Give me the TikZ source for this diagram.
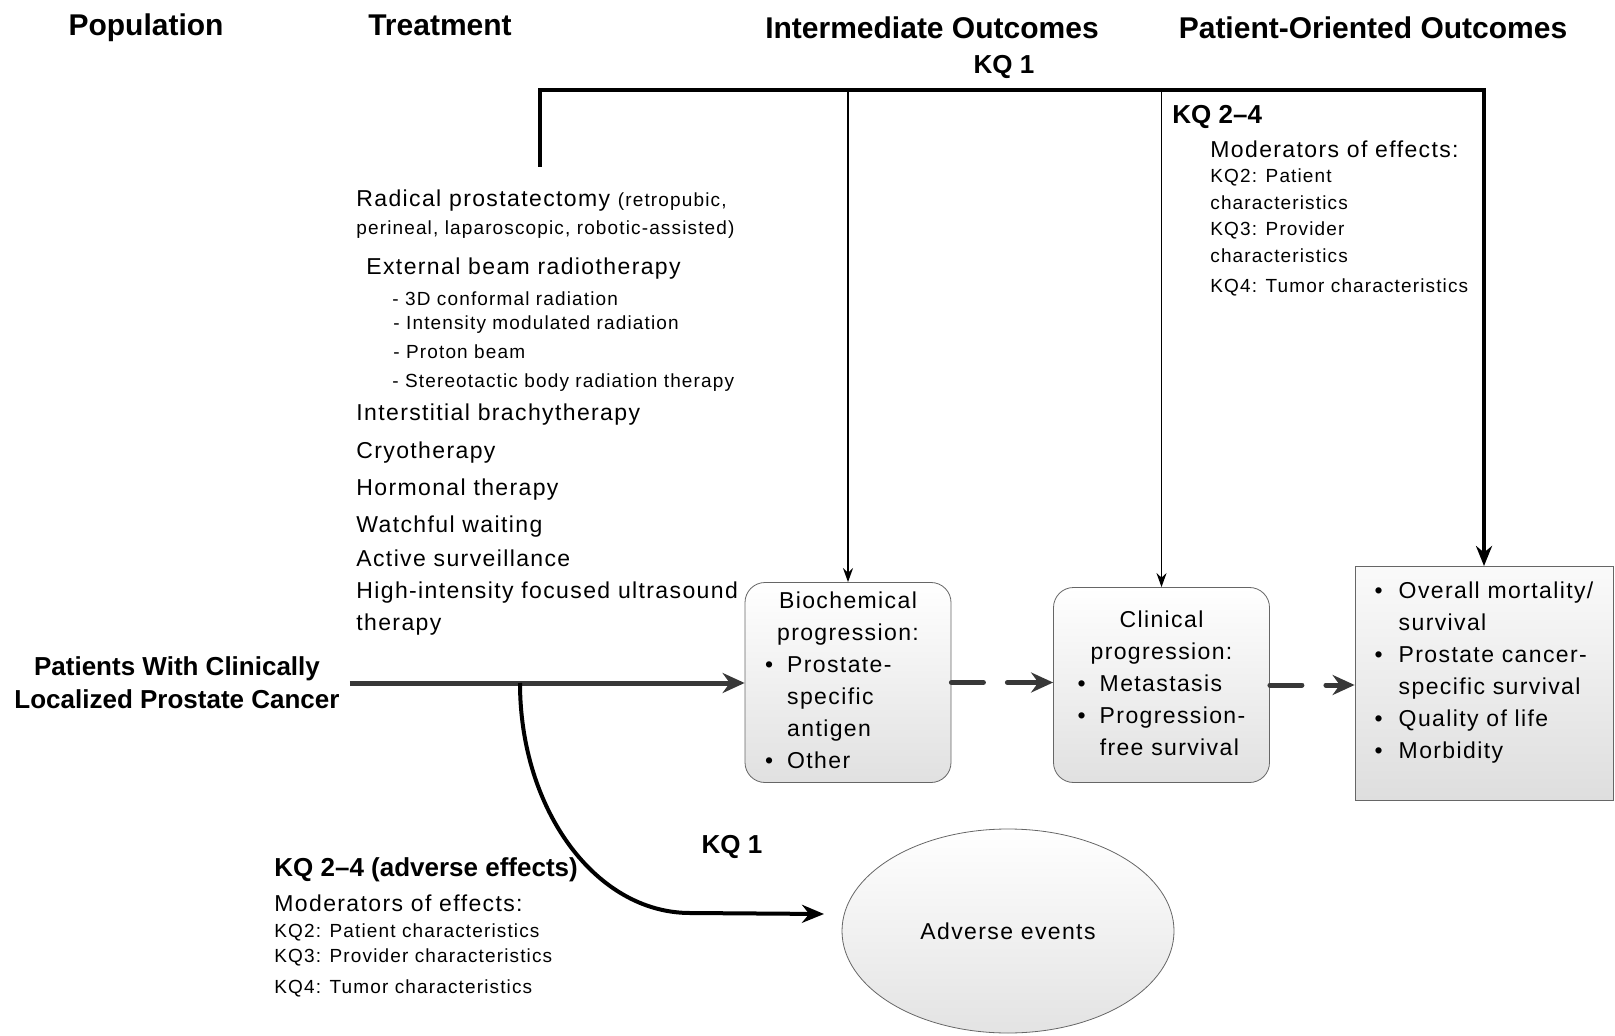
\documentclass[tikz,border=0pt]{standalone}
\usepackage{fontspec}
\setmainfont{Liberation Sans}[LetterSpace=6]
\newfontfamily\headfont{Liberation Sans}
\usetikzlibrary{arrows.meta, positioning, shapes.geometric}
\tikzset{
    heading/.style={
        inner sep=0pt,
        font=\headfont\fontsize{15}{18}\selectfont\bfseries
    },
    kqlabel/.style={
        inner sep=0pt,
        font=\headfont\fontsize{13}{16}\selectfont\bfseries
    },
    treat/.style={
        anchor=west,
        inner sep=0pt,
        font=\fontsize{11.5}{14}\selectfont
    },
    treatsub/.style={
        anchor=west,
        inner sep=0pt,
        font=\fontsize{9.5}{12}\selectfont
    },
    interim/.style={
        rectangle,
        rounded corners=10pt,
        draw=black!60,
        top color=white,
        bottom color=black!12,
        minimum width=103pt,
        minimum height=97.5pt,
        inner sep=2pt,
        font=\fontsize{11.5}{16}\selectfont
    },
    final/.style={
        rectangle,
        draw=black!60,
        top color=black!2,
        bottom color=black!13,
        minimum width=129pt,
        inner sep=5pt,
        font=\fontsize{11.5}{16}\selectfont
    },
    harm/.style={
        ellipse,
        draw=black!60,
        top color=white,
        bottom color=black!11,
        minimum width=166pt,
        minimum height=102pt,
        font=\fontsize{11.5}{14}\selectfont
    },
    flow/.style={
        draw=black!78,
        line width=2.5pt,
        -{Stealth[length=11pt,width=10pt]}
    },
    flowdash/.style={
        flow,
        line cap=round,
        dash pattern=on 16pt off 12pt on 40pt off 0pt
    },
    kqline/.style={
        draw=black,
        line width=2.3pt
    },
    kqarrow/.style={
        kqline,
        -{Stealth[length=10pt,width=8pt]}
    },
    kqthin/.style={
        draw=black,
        line width=0.8pt,
        -{Stealth[length=7pt,width=5pt]}
    },
    harmarrow/.style={
        draw=black,
        line width=2pt,
        -{Stealth[length=11pt,width=9pt]}
    }
}

\begin{document}
\begin{tikzpicture}[x=0.5pt, y=-0.5pt]
\useasboundingbox (0,0) rectangle (1615,1036);

% Column headings
\node[heading] (hpop) at (146,28) {Population};
\node[heading] (htrt) at (440,25) {Treatment};
\node[heading] (hint) at (932,28) {Intermediate Outcomes};
\node[heading] (hpat) at (1373,28) {Patient-Oriented Outcomes};

% Population
\node[kqlabel, align=center, font=\headfont\fontsize{13}{16.5}\selectfont\bfseries, inner sep=5pt] (pop) at (177,683) {Patients With Clinically\\Localized Prostate Cancer};

% Treatment list
\node[treat] (t1) at (356,201) {Radical prostatectomy {\fontsize{9.5}{12}\selectfont(retropubic,}};
\node[treatsub] (t2) at (356,230) {perineal, laparoscopic, robotic-assisted)};
\node[treat] (t3) at (366,269) {External beam radiotherapy};
\node[treatsub] (t4) at (392,299) {- 3D conformal radiation};
\node[treatsub] (t5) at (393,325) {- Intensity modulated radiation};
\node[treatsub] (t6) at (393,352) {- Proton beam};
\node[treatsub] (t7) at (392,383) {- Stereotactic body radiation therapy};
\node[treat] (t8) at (356,415) {Interstitial brachytherapy};
\node[treat] (t9) at (356,453) {Cryotherapy};
\node[treat] (t10) at (356,490) {Hormonal therapy};
\node[treat] (t11) at (356,527) {Watchful waiting};
\node[treat] (t12) at (356,558) {Active surveillance};
\node[treat] (t13) at (356,593) {High-intensity focused ultrasound};
\node[treat] (t14) at (356,625) {therapy};

% Intermediate outcomes
\node[interim] (bio) at (848,682.5) {\begin{tabular}{@{}l@{\hspace{7pt}}l@{}}
\multicolumn{2}{c}{Biochemical}\\
\multicolumn{2}{c}{progression:}\\
\textbullet & Prostate-\\
 & specific\\
 & antigen\\
\textbullet & Other
\end{tabular}};
\node[interim, minimum width=108pt] (clin) at (1161.5,685) {\begin{tabular}{@{}l@{\hspace{7pt}}l@{}}
\multicolumn{2}{c}{Clinical}\\
\multicolumn{2}{c}{progression:}\\
\textbullet & Metastasis\\
\textbullet & Progression-\\
 & free survival
\end{tabular}};

% Patient-oriented outcomes
\node[final, anchor=north, text depth=96pt] (pout) at (1484,566) {\begin{tabular}[t]{@{}l@{\hspace{8pt}}l@{}}
\textbullet & Overall mortality/\\
 & survival\\
\textbullet & Prostate cancer-\\
 & specific survival\\
\textbullet & Quality of life\\
\textbullet & Morbidity
\end{tabular}};

% Adverse events
\node[harm] (ae) at (1008,931) {Adverse events};

% Main flow
\draw[flow] (pop.east) -- (pop.east -| bio.west);
\draw[flowdash] (bio.east) -- (bio.east -| clin.west);
\draw[flowdash] (clin.east) -- (clin.east -| pout.west);

% KQ 1 bracket
\coordinate (trt) at (540,167);
\coordinate (corner) at (540,90);
\draw[kqarrow] (trt) -- (corner) -| (pout.north);
\draw[kqthin] (bio.north |- corner) -- (bio.north);
\draw[kqthin] (clin.north |- corner) -- (clin.north);
\node[kqlabel] (kq1top) at (1004,67) {KQ 1};

% KQ 2-4 moderators
\node[kqlabel, anchor=west] (kq24) at (1172,117) {KQ 2\textendash 4};
\node[treat] (m1) at (1210,149) {Moderators of effects:};
\node[treatsub] (m2) at (1210,177) {KQ2: Patient};
\node[treatsub] (m3) at (1210,203) {characteristics};
\node[treatsub] (m4) at (1210,230) {KQ3: Provider};
\node[treatsub] (m5) at (1210,256) {characteristics};
\node[treatsub] (m6) at (1210,287) {KQ4: Tumor characteristics};

% Harms branch
\coordinate (split) at (520,683);
\coordinate (aetip) at (824,914);
\draw[harmarrow] (split) .. controls (520,810) and (596,913) .. (690,913) -- (aetip);
\node[kqlabel] (kq1low) at (732,847) {KQ 1};
\node[kqlabel, anchor=west] (kqae) at (274,870) {KQ 2\textendash 4 (adverse effects)};
\node[treat] (a1) at (274,903) {Moderators of effects:};
\node[treatsub] (a2) at (274,932) {KQ2: Patient characteristics};
\node[treatsub] (a3) at (274,957) {KQ3: Provider characteristics};
\node[treatsub] (a4) at (274,988) {KQ4: Tumor characteristics};

\end{tikzpicture}
\end{document}
